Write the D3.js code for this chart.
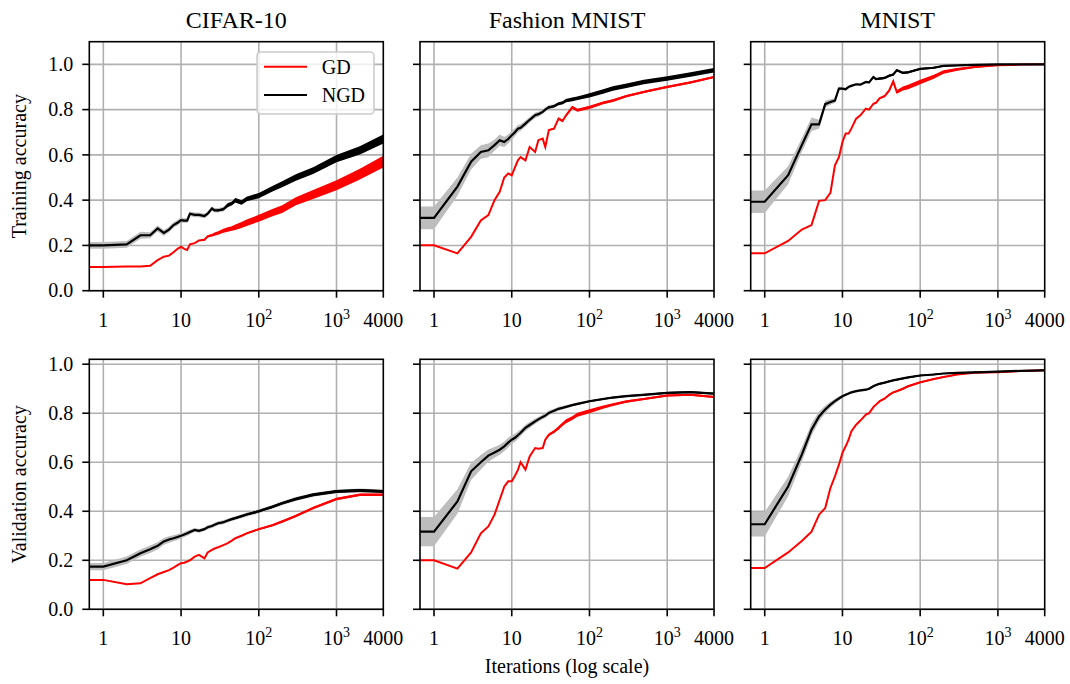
<!DOCTYPE html>
<html>
<head>
<meta charset="utf-8">
<script src="https://cdn.jsdelivr.net/npm/d3@7"></script>
<style>
body{margin:0;background:#fff}
svg{font-family:"Liberation Serif","Times New Roman",serif}
</style>
</head>
<body>
<svg id="chart" width="1070" height="684"></svg>
<script>
const iters = [1,2,3,4,5,6,7,8,9,10,11,12,13,15,17,20,22,25,27,30,35,40,45,50,60,70,100,150,200,300,500,1000,2000,4000];

const datasets = ["CIFAR-10", "Fashion MNIST", "MNIST"];
const rowLabels = ["Training accuracy", "Validation accuracy"];
const xTicks = [1, 10, 100, 1000, 4000];
const xTickLabels = [["1"], ["10"], ["10","2"], ["10","3"], ["4000"]];
const yTicks = [0, 0.2, 0.4, 0.6, 0.8, 1.0];
const seriesNames = ["GD", "NGD"];

// ---- training accuracy ----
const cifarTrainGD   = [.105,.107,.107,.11,.135,.15,.155,.17,.185,.194,.185,.18,.205, .21,.222,.225,.24,.245,.25,.255, .265,.27,.275,.28,.29,.30, .32,.345,.36,.395,.425, .466,.515,.57];
const cifarTrainGDNz = [0,0,0,0,0,0,0,0,0,0,0,0,0, 0,0,.004,.005,.006,.007,.008, .009,.01,.01,.012,.013,.014, .015,.016,.017,.018,.02, .022,.024,.026];
const cifarTrainNGD  = [.20,.205,.245,.245,.275,.255,.27,.29,.30,.312,.31,.31,.34, .335,.335,.33,.34,.363,.355,.355, .36,.378,.385,.40,.39,.405, .42,.45,.47,.50,.53, .584,.62,.67];
const cifarTrainStd  = [.015,.015,.015,.013,.013,.013,.012,.012,.012,.012,.01,.01,.01, .01,.01,.01,.01,.01,.01,.01, .01,.01,.01,.01,.01,.01, .01,.01,.01,.012,.012, .015,.018,.02];
const cifarTrainNGDNz= [0,0,0,0,0,0,0,0,0,0,0,0,0, 0,0,0,0,0,.003,.004, .005,.008,.008,.01,.01,.01, .012,.012,.013,.014,.015, .016,.018,.02];

const fashionTrainGD   = [.201,.165,.238,.31,.334,.40,.437,.50,.518,.51,.545,.576,.59, .576,.635,.613,.665,.672,.635,.71, .716,.76,.75,.775,.81,.797, .81,.83,.84,.86,.878, .90,.92,.944];
const fashionTrainGDNz = [0,0,0,0,0,0,0,0,0,0,0,0,0, 0,0,0,0,0,0,.003, .004,.005,.006,.006,.007,.007, .007,.006,.006,.005,.005, .005,.005,.004];
const fashionTrainNGD  = [.322,.46,.57,.613,.62,.643,.665,.657,.67,.687,.70,.716,.72, .738,.755,.775,.78,.79,.80,.81, .815,.826,.83,.84,.845,.85, .863,.88,.893,.905,.922, .937,.955,.974];
const fashionTrainStd  = [.05,.04,.035,.03,.03,.025,.025,.022,.02,.02,.018,.016,.015, .014,.012,.012,.011,.01,.01,.01, .008,.008,.008,.008,.007,.007, .006,.006,.006,.006,.006, .006,.006,.006];
const fashionTrainNGDNz= [0,0,0,0,0,0,0,0,0,0,0,0,0, 0,0,0,0,0,0,.004, .005,.006,.006,.007,.008,.008, .009,.01,.01,.01,.01, .01,.01,.01];

const mnistTrainGD   = [.165,.22,.27,.29,.397,.40,.432,.554,.59,.657,.694,.694,.716, .76,.775,.804,.80,.826,.83,.85, .86,.885,.925,.878,.893,.90, .922,.945,.966,.978,.988, .996,.999,1.0];
const mnistTrainGDNz = [0,0,0,0,0,0,0,0,0,0,0,0,0, 0,0,0,0,.003,.003,.004, .005,.006,.007,.008,.009,.01, .01,.009,.008,.006,.004, .002,.001,.001];
const mnistTrainNGD  = [.393,.51,.643,.735,.735,.824,.834,.84,.893,.893,.89,.90,.905, .912,.91,.922,.92,.944,.935,.937, .94,.95,.955,.974,.962,.965, .98,.985,.993,.995,.998, 1.0,1.0,1.0];
const mnistTrainStd  = [.05,.04,.03,.03,.02,.015,.012,.01,.008,.008,.006,.006,.006, .005,.005,.005,.005,.005,.005,.005, .004,.004,.004,.004,.004,.004, .003,.003,.003,.002,.002, .001,.001,.001];
const mnistTrainNGDNz= [0,0,0,0,0,0,0,0,0,0,0,0,0, 0,0,.003,.003,.004,.004,.005, .005,.005,.005,.005,.005,.005, .004,.004,.003,.002,.001, 0,0,0];

// ---- validation accuracy ----
const cifarValGD   = [.12,.102,.106,.127,.143,.152,.16,.17,.18,.188,.19,.195,.20, .215,.222,.208,.232,.242,.248,.253, .262,.27,.28,.29,.30,.31, .327,.343,.358,.381,.413, .45,.467,.467];
const cifarValGDNz = [0,0,0,0,0,0,0,0,0,0,0,0,0, 0,0,0,0,0,0,0, 0,0,.002,.002,.003,.003, .004,.004,.005,.005,.005, .005,.005,.005];
const cifarValNGD  = [.174,.20,.229,.245,.259,.277,.285,.29,.295,.30,.305,.31,.315, .324,.32,.327,.335,.34,.345,.351, .355,.362,.368,.372,.38,.387, .40,.418,.433,.45,.467, .481,.485,.481];
const cifarValStd  = [.015,.015,.015,.015,.015,.014,.013,.012,.012,.01,.01,.01,.01, .008,.008,.008,.008,.008,.008,.008, .008,.008,.008,.008,.008,.008, .008,.008,.008,.008,.008, .008,.008,.008];
const cifarValNGDNz= [0,0,0,0,0,0,0,0,0,0,0,0,0, 0,0,0,0,.002,.002,.003, .003,.003,.004,.004,.004,.004, .005,.005,.005,.006,.006, .006,.006,.006];

const fashionValGD   = [.20,.166,.232,.31,.338,.386,.447,.50,.522,.522,.545,.569,.60, .57,.624,.658,.655,.658,.692,.712, .725,.74,.755,.767,.78,.794, .808,.825,.835,.848,.858, .872,.875,.866];
const fashionValGDNz = [0,0,0,0,0,0,0,0,0,0,0,0,0, 0,0,0,0,0,.004,.005, .006,.007,.007,.008,.008,.008, .008,.007,.006,.005,.004, .004,.004,.004];
const fashionValNGD  = [.317,.44,.563,.60,.627,.64,.651,.665,.68,.692,.70,.71,.72, .74,.752,.767,.775,.785,.79,.801, .81,.818,.822,.826,.833,.838, .849,.858,.864,.87,.875, .883,.886,.88];
const fashionValStd  = [.06,.05,.035,.03,.025,.022,.02,.02,.02,.018,.016,.015,.014, .013,.012,.011,.01,.01,.01,.009, .008,.008,.007,.007,.006,.006, .005,.005,.005,.005,.005, .005,.005,.005];
const fashionValNGDNz= [0,0,0,0,0,0,0,0,0,0,0,0,0, 0,0,0,0,0,0,0, .002,.002,.002,.003,.003,.003, .003,.003,.003,.003,.003, .004,.004,.004];

const mnistValGD   = [.168,.232,.279,.317,.386,.413,.495,.542,.59,.638,.665,.692,.726, .753,.77,.794,.80,.825,.835,.849, .86,.875,.885,.89,.90,.91, .926,.94,.948,.958,.965, .967,.972,.975];
const mnistValGDNz = [0,0,0,0,0,0,0,0,0,0,0,0,0, 0,0,.003,.003,.004,.004,.004, .004,.004,.004,.004,.004,.004, .004,.003,.003,.002,.002, .002,.002,.002];
const mnistValNGD  = [.347,.501,.631,.733,.787,.815,.835,.849,.86,.869,.875,.88,.885, .89,.893,.896,.90,.91,.915,.92, .925,.93,.934,.937,.942,.946, .954,.958,.962,.965,.967, .97,.973,.975];
const mnistValStd  = [.05,.04,.03,.025,.02,.015,.012,.01,.008,.006,.005,.005,.005, .005,.005,.005,.005,.005,.005,.005, .004,.004,.004,.004,.004,.004, .003,.003,.003,.003,.003, .003,.003,.003];
const mnistValNGDNz= [0,0,0,0,0,0,0,0,0,0,0,0,0, 0,0,.002,.002,.002,.003,.003, .003,.003,.003,.003,.003,.003, .003,.003,.002,.002,.002, .002,.002,.002];

const panels = [
  {row:0, col:0, gd:cifarTrainGD,   gdNz:cifarTrainGDNz,   ngd:cifarTrainNGD,   std:cifarTrainStd,   ngdNz:cifarTrainNGDNz},
  {row:0, col:1, gd:fashionTrainGD, gdNz:fashionTrainGDNz, ngd:fashionTrainNGD, std:fashionTrainStd, ngdNz:fashionTrainNGDNz},
  {row:0, col:2, gd:mnistTrainGD,   gdNz:mnistTrainGDNz,   ngd:mnistTrainNGD,   std:mnistTrainStd,   ngdNz:mnistTrainNGDNz},
  {row:1, col:0, gd:cifarValGD,     gdNz:cifarValGDNz,     ngd:cifarValNGD,     std:cifarValStd,     ngdNz:cifarValNGDNz},
  {row:1, col:1, gd:fashionValGD,   gdNz:fashionValGDNz,   ngd:fashionValNGD,   std:fashionValStd,   ngdNz:fashionValNGDNz},
  {row:1, col:2, gd:mnistValGD,     gdNz:mnistValGDNz,     ngd:mnistValNGD,     std:mnistValStd,     ngdNz:mnistValNGDNz}
];

// layout
const colLeft = [89.3, 420, 750.7];
const rowTop = [41.7, 359.3];
const pw = 294;
const ph = [249, 250];
const yMax = [1.1, 1.02];
const xMin = 0.66, xMax = 4000;
const gdColor = "#ff0000", ngdColor = "#000000";

const svg = d3.select("#chart");
const defs = svg.append("defs");

panels.forEach(function(p, i){
  const x = d3.scaleLog().domain([xMin, xMax]).range([0, pw]);
  const y = d3.scaleLinear().domain([0, yMax[p.row]]).range([ph[p.row], 0]);
  const g = svg.append("g")
    .attr("transform", "translate(" + colLeft[p.col] + "," + rowTop[p.row] + ")");

  defs.append("clipPath").attr("id", "clip" + i)
    .append("rect").attr("width", pw).attr("height", ph[p.row]);

  // grid
  g.append("g").selectAll("line.gx")
    .data(xTicks.slice(0, 4)).enter().append("line")
      .attr("x1", d => x(d)).attr("x2", d => x(d))
      .attr("y1", 0).attr("y2", ph[p.row])
      .attr("stroke", "#b0b0b0").attr("stroke-width", 1.6);
  g.append("g").selectAll("line.gy")
    .data(yTicks).enter().append("line")
      .attr("x1", 0).attr("x2", pw)
      .attr("y1", d => y(d)).attr("y2", d => y(d))
      .attr("stroke", "#b0b0b0").attr("stroke-width", 1.6);

  // series points, first value carried to the left edge
  function pts(vals, spread){
    const out = [{x: xMin, v: vals[0], s: spread ? spread[0] : 0}];
    iters.forEach((it, k) => out.push({x: it, v: vals[k], s: spread ? spread[k] : 0}));
    return out;
  }
  const line = d3.line().x(d => x(d.x)).y(d => y(d.v));
  const band = d3.area().x(d => x(d.x)).y0(d => y(d.v - d.s)).y1(d => y(d.v + d.s));

  const plot = g.append("g").attr("clip-path", "url(#clip" + i + ")");

  plot.append("path").datum(pts(p.ngd, p.std))
    .attr("d", band).attr("fill", "#bdbdbd");

  plot.append("path").datum(pts(p.gd, p.gdNz))
    .attr("d", band).attr("fill", gdColor);
  plot.append("path").datum(pts(p.gd))
    .attr("d", line).attr("fill", "none")
    .attr("stroke", gdColor).attr("stroke-width", 2);

  plot.append("path").datum(pts(p.ngd, p.ngdNz))
    .attr("d", band).attr("fill", ngdColor);
  plot.append("path").datum(pts(p.ngd))
    .attr("d", line).attr("fill", "none")
    .attr("stroke", ngdColor).attr("stroke-width", 2.2);

  // spines
  g.append("rect").attr("width", pw).attr("height", ph[p.row])
    .attr("fill", "none").attr("stroke", "#000").attr("stroke-width", 1.6);

  // x ticks
  const xt = g.append("g").attr("transform", "translate(0," + ph[p.row] + ")");
  xt.selectAll("line").data(xTicks).enter().append("line")
    .attr("x1", d => x(d)).attr("x2", d => x(d))
    .attr("y1", 0).attr("y2", 7)
    .attr("stroke", "#000").attr("stroke-width", 1.6);
  const lab = xt.selectAll("text").data(xTicks).enter().append("text")
    .attr("x", d => x(d)).attr("y", 36)
    .attr("text-anchor", "middle").attr("font-size", 20);
  lab.each(function(d, k){
    const t = d3.select(this);
    const parts = xTickLabels[k];
    t.append("tspan").text(parts[0]);
    if (parts.length > 1)
      t.append("tspan").attr("dy", -8).attr("font-size", 14).text(parts[1]);
  });

  // y ticks
  const yt = g.append("g");
  yt.selectAll("line").data(yTicks).enter().append("line")
    .attr("x1", -7).attr("x2", 0)
    .attr("y1", d => y(d)).attr("y2", d => y(d))
    .attr("stroke", "#000").attr("stroke-width", 1.6);
  if (p.col === 0){
    yt.selectAll("text").data(yTicks).enter().append("text")
      .attr("x", -16).attr("y", d => y(d)).attr("dy", "0.34em")
      .attr("text-anchor", "end").attr("font-size", 20)
      .text(d => d.toFixed(1));
    g.append("text")
      .attr("transform", "translate(" + (-63) + "," + (ph[p.row] / 2) + ") rotate(-90)")
      .attr("text-anchor", "middle").attr("font-size", 20)
      .text(rowLabels[p.row]);
  }
  if (p.row === 0){
    g.append("text").attr("x", pw / 2).attr("y", -13.5)
      .attr("text-anchor", "middle").attr("font-size", 24)
      .text(datasets[p.col]);
  }
  if (p.row === 1 && p.col === 1){
    g.append("text").attr("x", pw / 2).attr("y", ph[p.row] + 64)
      .attr("text-anchor", "middle").attr("font-size", 20)
      .text("Iterations (log scale)");
  }

  // legend in first panel
  if (i === 0){
    const lg = g.append("g").attr("transform", "translate(" + (257 - colLeft[0]) + "," + (52 - rowTop[0]) + ")");
    lg.append("rect").attr("width", 117).attr("height", 62).attr("rx", 4)
      .attr("fill", "#fff").attr("fill-opacity", 0.8)
      .attr("stroke", "#cccccc").attr("stroke-width", 1.6);
    seriesNames.forEach(function(name, k){
      const yy = 14.7 + k * 28.3;
      lg.append("line").attr("x1", 7).attr("x2", 50).attr("y1", yy).attr("y2", yy)
        .attr("stroke", k === 0 ? gdColor : ngdColor).attr("stroke-width", 2);
      lg.append("text").attr("x", 64.7).attr("y", yy).attr("dy", "0.34em")
        .attr("font-size", 20).text(name);
    });
  }
});
</script>
</body>
</html>
